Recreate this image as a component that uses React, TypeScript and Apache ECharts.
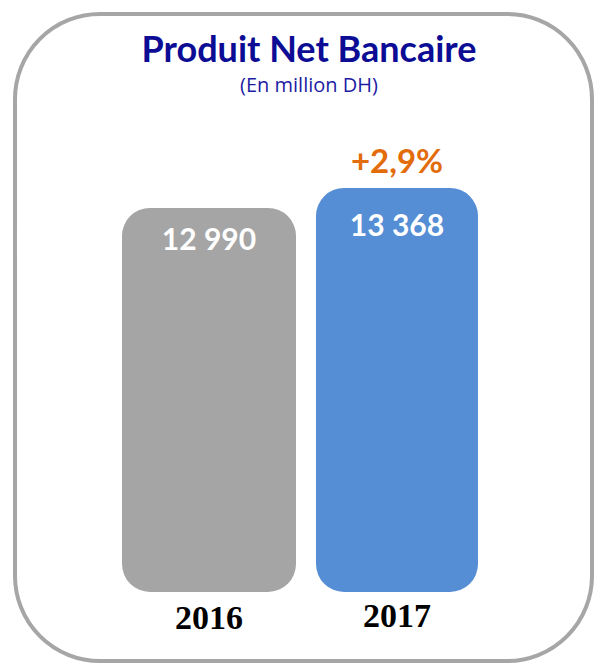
import React, { useEffect, useRef } from "react";
import * as echarts from "echarts";

const categories = ["2016", "2017"];
const values2016 = [12990, "-"];
const values2017 = ["-", 13368];
const valueLabels = ["12 990", "13 368"];
const growthLabel = "+2,9%";
const titleText = "Produit Net Bancaire";
const subtitleText = "(En million DH)";

export default function App() {
  const ref = useRef<HTMLDivElement>(null);
  useEffect(() => {
    if (!ref.current) return;
    const chart = echarts.init(ref.current, null, { renderer: "svg" });
    const catAxis = (idx: number, margin: number) => ({
      type: "category",
      position: "bottom",
      data: categories,
      axisLine: { show: false },
      axisTick: { show: false },
      axisLabel: {
        margin,
        color: "#000",
        fontFamily: "Liberation Serif",
        fontWeight: "bold",
        fontSize: 34,
        formatter: (v: string, i: number) => (i === idx ? v : ""),
      },
    });
    chart.setOption({
      animation: false,
      backgroundColor: "#fff",
      title: {
        text: titleText,
        subtext: subtitleText,
        left: 304,
        textAlign: "center",
        top: 25,
        itemGap: 8,
        textStyle: {
          color: "#0c0c94",
          fontFamily: "Lato",
          fontWeight: "bold",
          fontSize: 36,
        },
        subtextStyle: {
          color: "#1c1ca4",
          fontFamily: "Open Sans",
          fontSize: 20,
        },
      },
      graphic: [
        {
          type: "rect",
          shape: { x: 15, y: 14, width: 577, height: 647, r: 85 },
          style: { fill: "none", stroke: "#a6a6a6", lineWidth: 4 },
          silent: true,
        },
        {
          type: "text",
          x: 397,
          y: 160,
          style: {
            text: growthLabel,
            fill: "#e36c0a",
            font: "bold 33px Lato",
            textAlign: "center",
            textVerticalAlign: "middle",
          },
        },
      ],
      grid: { left: 115, right: 103, top: 100, bottom: 71 },
      xAxis: [catAxis(0, 8), catAxis(1, 6)],
      yAxis: {
        type: "value",
        min: 5730,
        max: 15030,
        show: false,
        splitLine: { show: false },
      },
      series: [
        {
          type: "bar",
          xAxisIndex: 0,
          data: values2016,
          barWidth: 174,
          itemStyle: { color: "#a5a5a5", borderRadius: 28 },
          label: {
            show: true,
            position: "insideTop",
            distance: 15,
            color: "#fff",
            fontFamily: "Lato",
            fontWeight: "bold",
            fontSize: 30,
            formatter: () => valueLabels[0],
          },
        },
        {
          type: "bar",
          xAxisIndex: 1,
          data: values2017,
          barWidth: 162,
          itemStyle: { color: "#558ed5", borderRadius: 28 },
          label: {
            show: true,
            position: "insideTop",
            distance: 21,
            color: "#fff",
            fontFamily: "Lato",
            fontWeight: "bold",
            fontSize: 30,
            formatter: () => valueLabels[1],
          },
        },
      ],
    });
    return () => chart.dispose();
  }, []);
  return (
    <div
      ref={ref}
      style={{ position: "fixed", left: 0, top: 0, width: 594, height: 663 }}
    />
  );
}
